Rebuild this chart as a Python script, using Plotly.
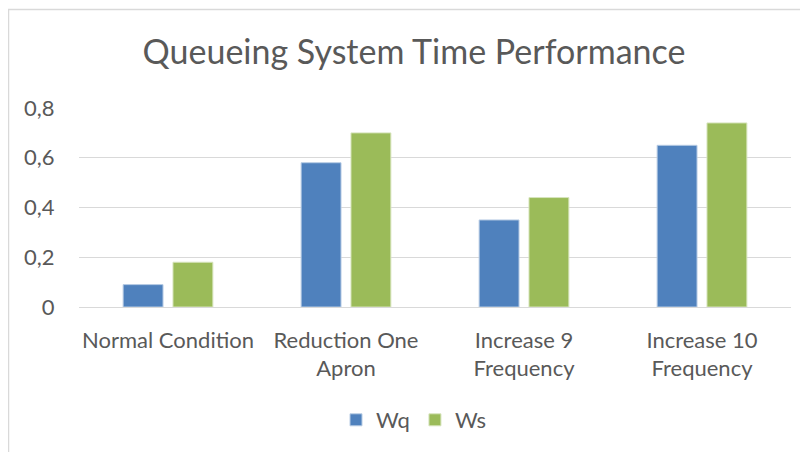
import plotly.graph_objects as go

categories = ["Normal Condition", "Reduction One<br>Apron", "Increase 9<br>Frequency", "Increase 10<br>Frequency"]
wq = [0.09, 0.58, 0.35, 0.65]
ws = [0.18, 0.70, 0.44, 0.74]
tick_vals = [0, 0.2, 0.4, 0.6, 0.8]
tick_text = ["0", "0,2", "0,4", "0,6", "0,8"]

FONT = "Lato, Carlito, Calibri, sans-serif"
TXT = "#595959"

# page body adds an 8px offset, so the figure is laid out 8px smaller
W, H = 800, 444
L, R, T, B = 71, 17, 100, 145
PH = H - T - B

fig = go.Figure()
fig.add_trace(go.Bar(name="Wq", x=categories, y=wq, marker=dict(color="#4F81BD", line=dict(color="#B8CCE4", width=1))))
fig.add_trace(go.Bar(name="Ws", x=categories, y=ws, marker=dict(color="#9BBB59", line=dict(color="#D7E4BD", width=1))))

fig.update_layout(
    width=W, height=H,
    margin=dict(l=L, r=R, t=T, b=B, autoexpand=False),
    paper_bgcolor="white", plot_bgcolor="white",
    barmode="group", bargap=0.44, bargroupgap=0.2,
    title=dict(text="Queueing System Time Performance", x=406 / W, xanchor="center",
               y=1 - 44 / H, yanchor="middle", yref="container",
               font=dict(family=FONT, size=34, color=TXT)),
    font=dict(family=FONT, size=22, color=TXT),
    legend=dict(orientation="h", x=(406 - L) / (W - L - R), xanchor="center",
                y=(T + PH - 412) / PH, yanchor="middle",
                font=dict(family=FONT, size=22, color=TXT), itemwidth=30, traceorder="normal"),
    showlegend=True,
)
fig.update_yaxes(range=[0, 0.8], tickvals=tick_vals, ticktext=tick_text, showgrid=True,
                 gridcolor="#D9D9D9", gridwidth=1.3, zeroline=False, showline=False,
                 ticks="outside", ticklen=19, tickcolor="rgba(0,0,0,0)",
                 tickfont=dict(family=FONT, size=22, color=TXT))
fig.update_xaxes(showline=True, linecolor="#D9D9D9", linewidth=1.3, ticks="outside",
                 ticklen=13, tickcolor="rgba(0,0,0,0)",
                 tickfont=dict(family=FONT, size=22, color=TXT), tickangle=0)
fig.add_shape(type="rect", xref="paper", yref="paper",
              x0=(0.5 - L) / (W - L - R), x1=(W + 20 - L) / (W - L - R),
              y0=(T + PH - (H + 20)) / PH, y1=(T + PH - 1.5) / PH,
              line=dict(color="#D9D9D9", width=1.5), fillcolor="rgba(0,0,0,0)", layer="below")
fig.write_html("out.html")
